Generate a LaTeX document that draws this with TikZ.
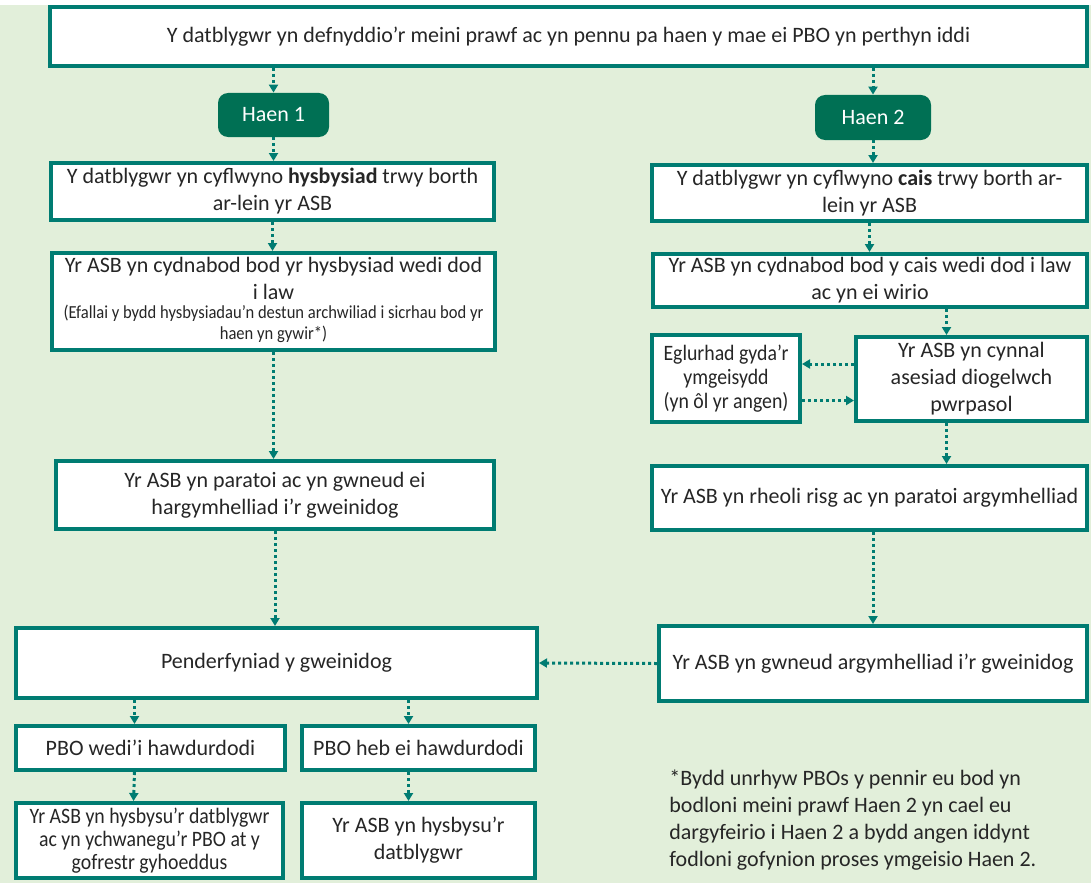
\documentclass[tikz,border=0pt]{standalone}
\usepackage{fontspec}
\setmainfont{Carlito}
\newfontfamily\condfont[FakeStretch=0.9]{Carlito}
\usepackage{tikz}
\usetikzlibrary{arrows.meta}
\usepackage{xcolor}
\definecolor{bgleaf}{RGB}{226,239,218}
\definecolor{tealline}{RGB}{0,124,114}
\definecolor{haengreen}{RGB}{0,112,84}
\definecolor{inktext}{RGB}{38,38,38}

\begin{document}
\begin{tikzpicture}[x=0.5pt,y=-0.5pt,
  box/.style={draw=tealline,line width=2pt,fill=white,text=inktext,align=center,inner sep=1pt,
    font=\fontsize{11}{13.5}\selectfont},
  haen/.style={fill=haengreen,rounded corners=5pt,text=white,font=\fontsize{11}{13.5}\selectfont},
  link/.style={draw=tealline,line width=1.5pt,dash pattern=on 1.5pt off 1.5pt,
    -{Triangle[length=4pt,width=4.5pt]}}]
  \useasboundingbox (0,0) rectangle (1091,883);
  \fill[bgleaf] (0,5) rectangle (1091,883);

  \node[box,minimum width=518.5pt,minimum height=29.5pt] (crit) at (568.5,36.5)
    {Y datblygwr yn defnyddio’r meini prawf ac yn pennu pa haen y mae ei PBO yn perthyn iddi};

  \node[haen,minimum width=55.5pt,minimum height=22pt] (haen1) at (273.5,115) {Haen 1};
  \node[haen,minimum width=58pt,minimum height=22.5pt] (haen2) at (873,117.5) {Haen 2};

  \node[box,minimum width=221.5pt,minimum height=28.5pt] (notify) at (272.5,191.5)
    {Y datblygwr yn cyflwyno \textbf{hysbysiad} trwy borth\\ar-lein yr ASB};
  \node[box,minimum width=221.5pt,minimum height=48.5pt] (ackone) at (273.5,301.5)
    {Yr ASB yn cydnabod bod yr hysbysiad wedi dod\\i law\\[1pt]
     {\condfont\fontsize{9.2}{10.5}\selectfont\begin{tabular}{@{}c@{}}(Efallai y bydd hysbysiadau’n destun archwiliad i sicrhau bod yr\\haen yn gywir*)\end{tabular}}};
  \node[box,minimum width=219pt,minimum height=34pt] (prepone) at (275,495)
    {Yr ASB yn paratoi ac yn gwneud ei\\hargymhelliad i’r gweinidog};
  \node[box,minimum width=260.5pt,minimum height=35pt] (decide) at (276.5,663)
    {Penderfyniad y gweinidog};
  \node[box,minimum width=134.5pt,minimum height=22pt] (granted) at (150.5,748)
    {PBO wedi’i hawdurdodi};
  \node[box,minimum width=116.5pt,minimum height=22pt] (refused) at (418.5,748)
    {PBO heb ei hawdurdodi};
  \node[box,minimum width=133.5pt,minimum height=37.5pt,
    font=\condfont\fontsize{11}{11.5}\selectfont] (register) at (149.5,840.5)
    {Yr ASB yn hysbysu’r datblygwr\\ac yn ychwanegu’r PBO at y\\gofrestr gyhoeddus};
  \node[box,minimum width=116.5pt,minimum height=37.5pt] (tell) at (418.5,840.5)
    {Yr ASB yn hysbysu’r\\datblygwr};

  \node[box,minimum width=217.5pt,minimum height=28pt] (apply) at (869.5,193)
    {Y datblygwr yn cyflwyno \textbf{cais} trwy borth ar-\\lein yr ASB};
  \node[box,minimum width=217pt,minimum height=26.5pt] (acktwo) at (870,280.5)
    {Yr ASB yn cydnabod bod y cais wedi dod i law\\ac yn ei wirio};
  \node[box,minimum width=74pt,minimum height=43.5pt,
    font=\condfont\fontsize{11}{12}\selectfont] (clarify) at (726,378.5)
    {Eglurhad gyda’r\\ymgeisydd\\(yn ôl yr angen)};
  \node[box,minimum width=115.5pt,minimum height=42pt] (assess) at (971.5,379)
    {Yr ASB yn cynnal\\asesiad diogelwch\\pwrpasol};
  \node[box,minimum width=217.5pt,minimum height=32pt] (risk) at (869.5,498)
    {Yr ASB yn rheoli risg ac yn paratoi argymhelliad};
  \node[box,minimum width=214pt,minimum height=37.5pt] (advise) at (873,663.5)
    {Yr ASB yn gwneud argymhelliad i’r gweinidog};

  \node[anchor=west,align=left,text=inktext,inner sep=0pt,
    font=\fontsize{11}{13.5}\selectfont] (note) at (669,820)
    {*Bydd unrhyw PBOs y pennir eu bod yn\\bodloni meini prawf Haen 2 yn cael eu\\
     dargyfeirio i Haen 2 a bydd angen iddynt\\fodloni gofynion proses ymgeisio Haen 2.};

  \draw[link] (haen1.north |- crit.south) -- (haen1.north);
  \draw[link] (haen2.north |- crit.south) -- (haen2.north);
  \draw[link] (haen1.south) -- (haen1.south |- notify.north);
  \draw[link] (notify.south) -- (notify.south |- ackone.north);
  \draw[link] (ackone.south) -- (ackone.south |- prepone.north);
  \draw[link] (prepone.south) -- (prepone.south |- decide.north);
  \draw[link] ([xshift=-8pt]granted.north |- decide.south) -- ([xshift=-8pt]granted.north);
  \draw[link] ([xshift=-5pt]refused.north |- decide.south) -- ([xshift=-5pt]refused.north);
  \draw[link] ([xshift=-8pt]granted.south) -- ([xshift=-8pt]register.north);
  \draw[link] ([xshift=-5pt]refused.south) -- ([xshift=-5pt]tell.north);

  \draw[link] (haen2.south) -- (haen2.south |- apply.north);
  \draw[link] (apply.south) -- (apply.south |- acktwo.north);
  \draw[link] ([xshift=-12.5pt]assess.north |- acktwo.south) -- ([xshift=-12.5pt]assess.north);
  \draw[link] ([yshift=7.5pt]assess.west) -- ([yshift=7.5pt]assess.west -| clarify.east);
  \draw[link] ([yshift=-11pt]clarify.east) -- ([yshift=-11pt]clarify.east -| assess.west);
  \draw[link] ([xshift=-12.5pt]assess.south) -- ([xshift=-12.5pt]assess.south |- risk.north);
  \draw[link] (advise.north |- risk.south) -- (advise.north);
  \draw[link] (advise.west) -- (decide.east);
\end{tikzpicture}
\end{document}
